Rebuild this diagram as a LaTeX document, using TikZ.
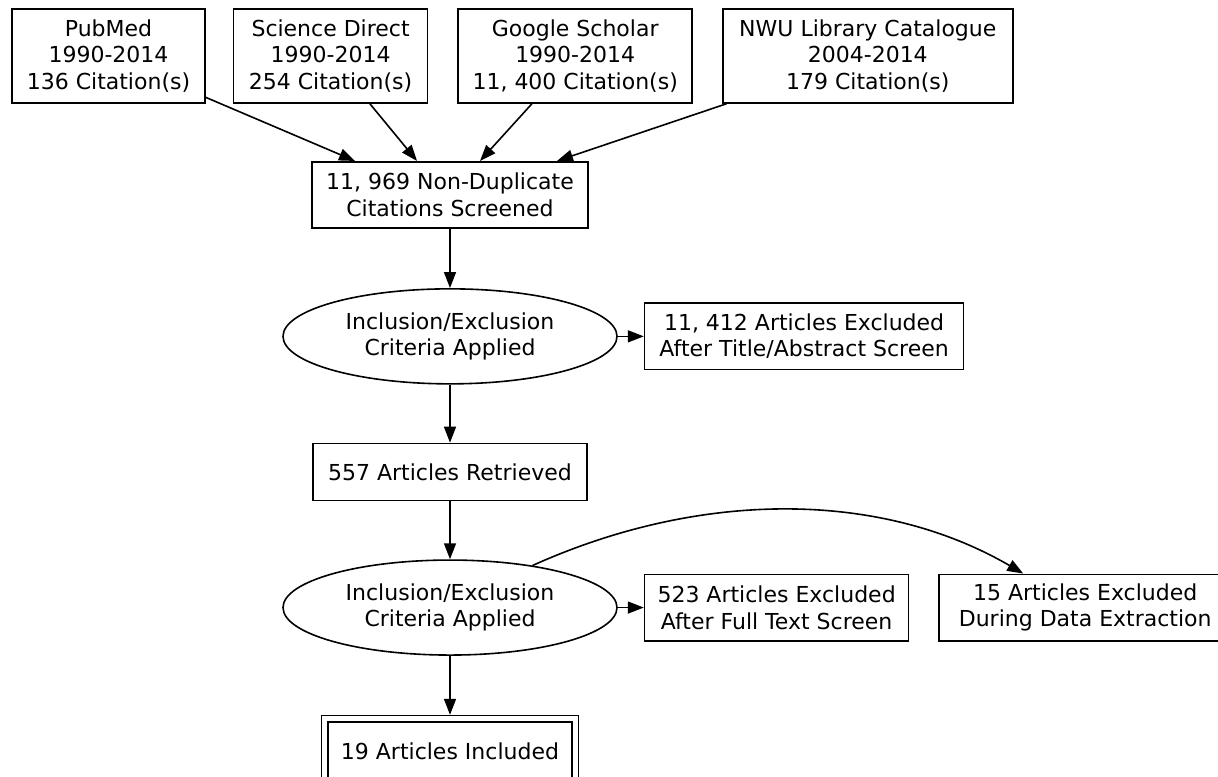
\documentclass[tikz,border=0pt]{standalone}
\usepackage{fontspec}
\setmainfont{DejaVu Sans}
\usetikzlibrary{arrows.meta,positioning,shapes.geometric}

\begin{document}
\begin{tikzpicture}[x=0.5pt,y=-0.5pt,line width=0.8pt,
  >={Triangle[length=8pt,width=6pt]},
  font=\fontsize{11pt}{13.3pt}\selectfont]
  \tikzstyle{box}=[draw,rectangle,align=center,inner xsep=4pt,inner ysep=0pt,minimum height=33.25pt]
  \tikzstyle{crit}=[draw,ellipse,align=center,inner sep=0pt,minimum width=167pt,minimum height=47.5pt]
  \useasboundingbox (0,0) rectangle (1218,776);

  % sources
  \node[box,minimum width=96.5pt,minimum height=47pt] (pub) at (108.5,56) {PubMed\\1990-2014\\136 Citation(s)};
  \node[box,minimum width=97pt,minimum height=47pt] (sci) [right=13.5pt of pub] {Science Direct\\1990-2014\\254 Citation(s)};
  \node[box,minimum width=117pt,minimum height=47pt] (goo) [right=14.5pt of sci] {Google Scholar\\1990-2014\\11, 400 Citation(s)};
  \node[box,minimum width=145pt,minimum height=47pt] (nwu) [right=14.5pt of goo] {NWU Library Catalogue\\2004-2014\\179 Citation(s)};

  % screening
  \node[box,minimum width=138pt] (screen) at (450,195) {11, 969 Non-Duplicate\\Citations Screened};
  \node[crit] (sel1) [below=29.5pt of screen] {Inclusion/Exclusion\\Criteria Applied};
  \node[box,minimum width=159.5pt] (exc1) [right=13pt of sel1] {11, 412 Articles Excluded\\After Title/Abstract Screen};
  \node[box,minimum width=137pt,minimum height=28.5pt] (ret) [below=29pt of sel1] {557 Articles Retrieved};
  \node[crit] (sel2) [below=29pt of ret] {Inclusion/Exclusion\\Criteria Applied};
  \node[box,minimum width=132pt] (exc2) [right=13pt of sel2] {523 Articles Excluded\\After Full Text Screen};
  \node[box,minimum width=146pt] (exc3) [right=14.5pt of exc2] {15 Articles Excluded\\During Data Extraction};
  \node[box,double,double distance=2.4pt,minimum width=125.25pt,minimum height=32pt] (incl) [below=31.1pt of sel2] {19 Articles Included};

  \path[->]
  (pub) edge ([xshift=-47.5pt]screen.north)
  (sci) edge ([xshift=-16.5pt]screen.north)
  (goo) edge ([xshift=15pt]screen.north)
  (nwu) edge ([xshift=53.5pt]screen.north)
  (screen) edge (sel1)
  (sel1) edge (exc1)
         edge (ret)
  (ret) edge (sel2)
  (sel2) edge (exc2)
         edge [shorten >=1.6pt] (incl);
  \draw[->] (sel2.27) .. controls (700,490) and (880,490) .. ([xshift=-31pt]exc3.north);
\end{tikzpicture}
\end{document}
